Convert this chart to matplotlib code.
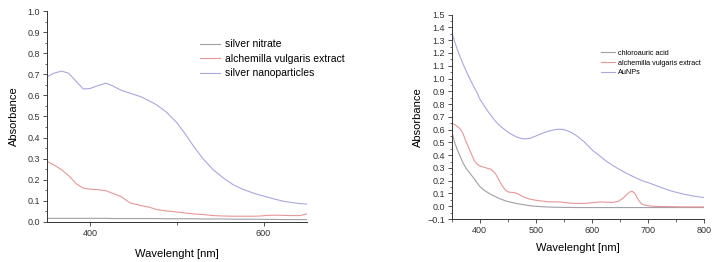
import matplotlib.pyplot as plt
from matplotlib.ticker import MultipleLocator

# left panel: silver
ag_wl = [350, 358, 367, 375, 384, 392, 400, 408, 418, 426, 435, 446, 458, 468, 477,
         488, 500, 510, 519, 530, 542, 553, 565, 576, 588, 596, 604, 613, 623, 632, 642, 650]
ag_np = [0.688, 0.705, 0.715, 0.705, 0.665, 0.630, 0.633, 0.645, 0.658, 0.645, 0.625, 0.610,
         0.594, 0.574, 0.554, 0.520, 0.470, 0.415, 0.360, 0.300, 0.247, 0.210, 0.176, 0.155,
         0.137, 0.127, 0.118, 0.108, 0.098, 0.092, 0.087, 0.084]
ag_extract = [0.287, 0.270, 0.247, 0.220, 0.180, 0.160, 0.155, 0.153, 0.148, 0.135, 0.121,
              0.090, 0.078, 0.070, 0.058, 0.052, 0.047, 0.042, 0.038, 0.035, 0.030, 0.028,
              0.027, 0.027, 0.027, 0.028, 0.031, 0.032, 0.031, 0.030, 0.030, 0.038]
ag_nitrate = [0.017, 0.017, 0.017, 0.017, 0.017, 0.017, 0.017, 0.017, 0.017, 0.016, 0.016,
              0.016, 0.016, 0.016, 0.016, 0.015, 0.015, 0.015, 0.015, 0.014, 0.014, 0.014,
              0.013, 0.013, 0.013, 0.012, 0.012, 0.012, 0.011, 0.011, 0.011, 0.011]

# right panel: gold
au_wl = [350, 355, 360, 365, 370, 375, 383, 390, 395, 400, 408, 415, 420, 428, 435, 440,
         446, 452, 460, 467, 475, 482, 490, 500, 512, 524, 535, 542, 550, 560, 572, 585,
         602, 614, 625, 638, 648, 656, 662, 668, 672, 677, 683, 688, 692, 700, 710, 725,
         740, 750, 765, 780, 800]
au_np = [1.360, 1.290, 1.225, 1.170, 1.115, 1.065, 0.990, 0.930, 0.890, 0.840, 0.785, 0.740,
         0.710, 0.665, 0.635, 0.615, 0.595, 0.575, 0.555, 0.540, 0.530, 0.527, 0.532, 0.550,
         0.572, 0.590, 0.600, 0.603, 0.600, 0.585, 0.555, 0.510, 0.435, 0.395, 0.355, 0.318,
         0.292, 0.272, 0.258, 0.245, 0.236, 0.226, 0.214, 0.204, 0.197, 0.186, 0.170, 0.145,
         0.122, 0.110, 0.094, 0.081, 0.068]
au_extract = [0.650, 0.640, 0.625, 0.605, 0.570, 0.510, 0.430, 0.360, 0.330, 0.315, 0.305,
              0.295, 0.290, 0.255, 0.200, 0.160, 0.125, 0.110, 0.108, 0.100, 0.080, 0.065,
              0.055, 0.047, 0.040, 0.035, 0.034, 0.034, 0.030, 0.025, 0.022, 0.022, 0.028,
              0.034, 0.032, 0.030, 0.040, 0.065, 0.090, 0.112, 0.118, 0.100, 0.050, 0.022,
              0.012, 0.004, 0.000, -0.002, -0.003, -0.004, -0.005, -0.005, -0.005]
au_acid = [0.590, 0.500, 0.440, 0.390, 0.340, 0.300, 0.255, 0.215, 0.185, 0.155, 0.125,
           0.105, 0.092, 0.075, 0.060, 0.052, 0.042, 0.035, 0.027, 0.020, 0.014, 0.010,
           0.004, 0.000, -0.004, -0.006, -0.008, -0.008, -0.009, -0.009, -0.010, -0.010,
           -0.010, -0.010, -0.010, -0.010, -0.010, -0.010, -0.010, -0.010, -0.010, -0.010,
           -0.010, -0.010, -0.010, -0.010, -0.010, -0.010, -0.010, -0.010, -0.010, -0.010,
           -0.010]

c_gray = '#a0a0a8'
c_red = '#e89696'
c_blue = '#a8a8e0'

plt.rcParams['font.family'] = ['Liberation Sans', 'DejaVu Sans']
fig = plt.figure(figsize=(7.16, 2.62), dpi=100)
ax1 = fig.add_axes([0.0656, 0.153, 0.363, 0.805])
ax2 = fig.add_axes([0.631, 0.164, 0.352, 0.780])


def style(ax):
    for s in ['top', 'right']:
        ax.spines[s].set_visible(False)
    for s in ['left', 'bottom']:
        ax.spines[s].set_linewidth(0.7)
        ax.spines[s].set_color('#333333')
    ax.tick_params(which='major', length=3, width=0.6, labelsize=6.5, pad=2, colors='#333333')
    ax.tick_params(which='minor', length=1.8, width=0.5, colors='#333333')
    ax.yaxis.set_minor_locator(MultipleLocator(0.05))


ax1.plot(ag_wl, ag_nitrate, color=c_gray, lw=0.8, label='silver nitrate')
ax1.plot(ag_wl, ag_extract, color=c_red, lw=0.8, label='alchemilla vulgaris extract')
ax1.plot(ag_wl, ag_np, color=c_blue, lw=0.8, label='silver nanoparticles')
ax1.set_xlim(350, 650)
ax1.set_ylim(0, 1.0)
ax1.xaxis.set_major_locator(MultipleLocator(200))
ax1.xaxis.set_minor_locator(MultipleLocator(100))
ax1.yaxis.set_major_locator(MultipleLocator(0.1))
ax1.yaxis.set_major_formatter(plt.FormatStrFormatter('%.1f'))
style(ax1)
ax1.set_xlabel('Wavelenght [nm]', fontsize=8, labelpad=8)
ax1.set_ylabel('Absorbance', fontsize=8, labelpad=6)
ax1.legend(loc='upper left', bbox_to_anchor=(0.569, 0.89), frameon=False, fontsize=7.5,
           handlelength=1.9, handletextpad=0.5, labelspacing=0.42, borderpad=0)

ax2.plot(au_wl, au_acid, color=c_gray, lw=0.8, label='chloroauric acid')
ax2.plot(au_wl, au_extract, color=c_red, lw=0.8, label='alchemilla vulgaris extract')
ax2.plot(au_wl, au_np, color=c_blue, lw=0.8, label='AuNPs')
ax2.set_xlim(350, 800)
ax2.set_ylim(-0.1, 1.5)
ax2.xaxis.set_major_locator(MultipleLocator(100))
ax2.xaxis.set_minor_locator(MultipleLocator(50))
style(ax2)
ax2.set_yticks([round(-0.1 + 0.1 * i, 1) for i in range(17)])
ax2.set_yticklabels(['\u22120.1'] + ['%.1f' % (-0.1 + 0.1 * i) for i in range(1, 17)])
ax2.set_xlabel('Wavelenght [nm]', fontsize=8, labelpad=6)
ax2.set_ylabel('Absorbance', fontsize=8, labelpad=3)
ax2.legend(loc='upper left', bbox_to_anchor=(0.577, 0.845), frameon=False, fontsize=5.2,
           handlelength=2.0, handletextpad=0.4, labelspacing=0.35, borderpad=0)

fig.savefig('out.png', dpi=100)
